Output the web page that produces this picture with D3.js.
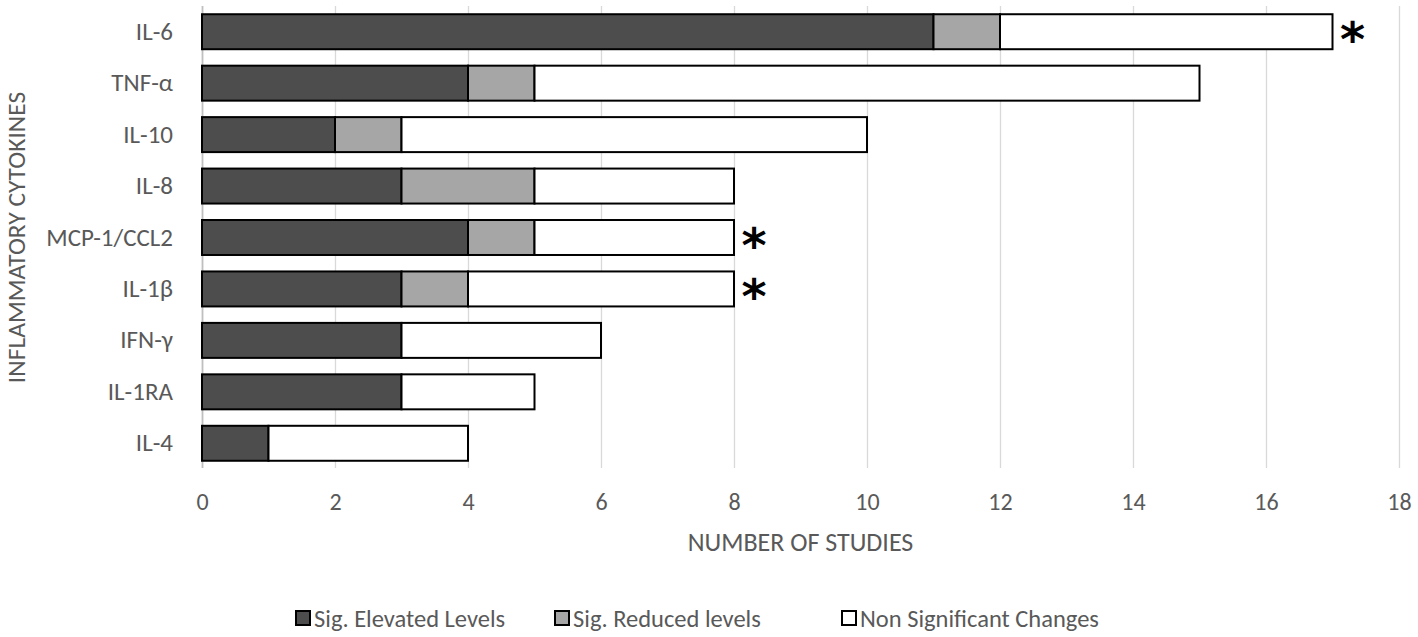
<!DOCTYPE html>
<html>
<head>
<meta charset="utf-8">
<style>
    body { margin: 0; background: #fff; }
    svg { display: block; font-family: Carlito, 'Open Sans', sans-serif; }
    svg text { font-family: Carlito, 'Open Sans', sans-serif; }
    .grid line { stroke: #d9d9d9; stroke-width: 1.3; }
    .grid .domain { display: none; }
    .x .domain, .x .tick line { display: none; }
    .x .tick text { font-size: 24px; fill: #595959; }
    .y .domain, .y .tick line { display: none; }
    .y .tick text { font-size: 25px; fill: #595959; }
    .axis-title { font-size: 26px; fill: #595959; }
    .axis-title.ytitle { font-size: 25.5px; }
    .legend text { font-size: 24.5px; fill: #595959; }
    .bar rect { stroke: #000; stroke-width: 2; }
    text.star { font-family: 'DejaVu Sans', sans-serif; font-weight: bold; font-size: 48px; fill: #000; }
</style>
</head>
<body>
<svg width="1418" height="637"></svg>

<script src="https://d3js.org/d3.v7.min.js"></script>
<script>
    // data
    let cytokines = ["IL-6", "TNF-α", "IL-10", "IL-8", "MCP-1/CCL2", "IL-1β", "IFN-γ", "IL-1RA", "IL-4"];
    let elevated = [11, 4, 2, 3, 4, 3, 3, 3, 1];
    let reduced = [1, 1, 1, 2, 1, 1, 0, 0, 0];
    let nonSig = [5, 10, 7, 3, 3, 4, 3, 2, 3];
    let starred = ["IL-6", "MCP-1/CCL2", "IL-1β"];
    let seriesNames = ["Sig. Elevated Levels", "Sig. Reduced levels", "Non Significant Changes"];
    let seriesColors = ["#4d4d4d", "#a6a6a6", "#ffffff"];
    let xTicks = [0, 2, 4, 6, 8, 10, 12, 14, 16, 18];

    let width = 1418;
    let height = 637;
    let margin = { top: 6, right: 19, bottom: 168, left: 202 };
    let legendX = [296, 555, 842]; // left edge of each legend swatch

    let svg = d3.select("svg");

    // build rows for the stack
    let rows = cytokines.map(function (c, i) {
        return { name: c, elevated: elevated[i], reduced: reduced[i], nonSig: nonSig[i] };
    });
    let keys = ["elevated", "reduced", "nonSig"];
    let stacked = d3.stack().keys(keys)(rows);

    let xScale = d3.scaleLinear()
        .domain([0, 18])
        .range([margin.left, width - margin.right]);

    let yScale = d3.scaleBand()
        .domain(cytokines)
        .range([margin.top, height - margin.bottom])
        .paddingInner(0.32)
        .paddingOuter(0.16);

    let plotBottom = height - margin.bottom;

    // vertical gridlines
    svg.append("g")
        .attr("class", "grid")
        .attr("transform", `translate(0,${margin.top})`)
        .call(d3.axisBottom(xScale).tickValues(xTicks).tickSize(plotBottom - margin.top - 1).tickFormat(""));

    svg.select(".grid").selectAll(".tick line")
        .filter(function (d) { return d === 0; })
        .style("stroke", "#bfbfbf")
        .style("stroke-width", 1.8);

    // x tick labels
    svg.append("g")
        .attr("class", "x axis")
        .attr("transform", `translate(0,${plotBottom})`)
        .call(d3.axisBottom(xScale).tickValues(xTicks).tickSize(0).tickPadding(24));

    // category labels
    svg.append("g")
        .attr("class", "y axis")
        .attr("transform", `translate(${margin.left},0)`)
        .call(d3.axisLeft(yScale).tickSize(0).tickPadding(29));

    // stacked bars
    svg.selectAll("g.bar")
        .data(stacked)
        .enter().append("g")
        .attr("class", "bar")
        .style("fill", function (d, i) { return seriesColors[i]; })
        .selectAll("rect")
        .data(function (d) { return d.filter(function (s) { return s[1] > s[0]; }); })
        .enter().append("rect")
        .attr("x", function (d) { return xScale(d[0]); })
        .attr("y", function (d) { return yScale(d.data.name); })
        .attr("width", function (d) { return xScale(d[1]) - xScale(d[0]); })
        .attr("height", yScale.bandwidth());

    // significance stars
    svg.selectAll("text.star")
        .data(rows.filter(function (d) { return starred.includes(d.name); }))
        .enter().append("text")
        .attr("class", "star")
        .attr("text-anchor", "middle")
        .attr("x", function (d) { return xScale(d.elevated + d.reduced + d.nonSig) + 20; })
        .attr("y", function (d) { return yScale(d.name) + yScale.bandwidth() / 2 + 24; })
        .text("*");

    // axis titles
    svg.append("text")
        .attr("class", "axis-title")
        .attr("text-anchor", "middle")
        .attr("x", (xScale.range()[0] + xScale.range()[1]) / 2)
        .attr("y", 551)
        .text("NUMBER OF STUDIES");

    svg.append("text")
        .attr("class", "axis-title ytitle")
        .attr("text-anchor", "middle")
        .attr("transform", `translate(25,${(margin.top + plotBottom) / 2}) rotate(-90)`)
        .text("INFLAMMATORY CYTOKINES");

    // legend
    let legend = svg.append("g").attr("class", "legend");
    let items = legend.selectAll("g")
        .data(seriesNames)
        .enter().append("g")
        .attr("transform", function (d, i) { return `translate(${legendX[i]},618)`; });

    items.append("rect")
        .attr("width", 14)
        .attr("height", 14)
        .attr("y", -7)
        .style("fill", function (d, i) { return seriesColors[i]; })
        .style("stroke", "#000")
        .style("stroke-width", 2);

    items.append("text")
        .attr("x", 18)
        .attr("dy", "0.35em")
        .text(function (d) { return d; });
</script>
</body>
</html>
